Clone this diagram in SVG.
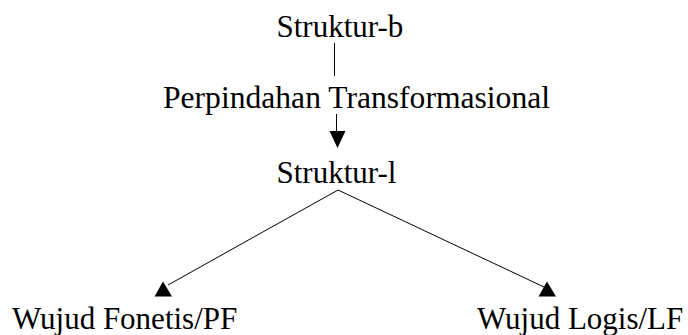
<svg xmlns="http://www.w3.org/2000/svg" width="688" height="335" viewBox="0 0 688 335">
  <style>
    .lbl { font-family: "Liberation Serif", "Times New Roman", serif; font-size: 31px; fill: #000; }
    .edge { stroke: #000; stroke-width: 1; fill: none; }
    .head { fill: #000; stroke: none; }
  </style>
  <rect width="688" height="335" fill="#fff"/>
  <g id="connectors">
    <line class="edge" x1="334.5" y1="43" x2="334.5" y2="76"/>
    <line class="edge" x1="336.5" y1="114" x2="336.5" y2="132"/>
    <polygon class="head" points="329.5,131 345.5,131 337.5,148"/>
    <line class="edge" x1="338" y1="190" x2="168" y2="285"/>
    <polygon class="head" points="154.5,296.5 172,296.5 163,281.5"/>
    <line class="edge" x1="338" y1="190" x2="544" y2="287"/>
    <polygon class="head" points="538.5,296.5 556,296.5 547,281.5"/>
  </g>
  <g id="struktur-b"><text class="lbl" x="276.5" y="36.5">Struktur-b</text></g>
  <g id="perpindahan"><text class="lbl" x="163" y="107.5" textLength="387" lengthAdjust="spacingAndGlyphs">Perpindahan Transformasional</text></g>
  <g id="struktur-l"><text class="lbl" x="276.5" y="183">Struktur-l</text></g>
  <g id="pf"><text class="lbl" x="12" y="329">Wujud Fonetis/PF</text></g>
  <g id="lf"><text class="lbl" x="477" y="329">Wujud Logis/LF</text></g>
</svg>
